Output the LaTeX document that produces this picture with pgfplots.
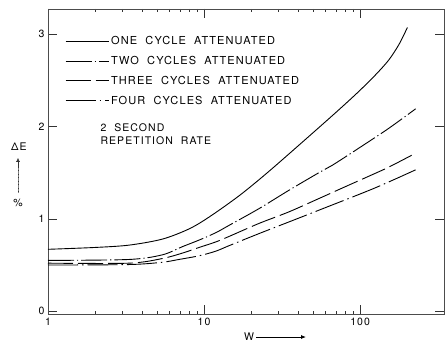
\documentclass[border=0pt]{standalone}
\usepackage{fontspec}
\setmainfont{TeX Gyre Heros}[LetterSpace=10,WordSpace=2]
\usepackage{pgfplots}
\pgfplotsset{compat=1.18}
\usetikzlibrary{arrows.meta}
\begin{document}
\begin{tikzpicture}
\def\fs{\fontsize{10.5}{12.6}\selectfont}
\def\fl{\fontsize{11}{13.2}\selectfont}
\begin{axis}[
  scale only axis, width=396pt, height=305pt,
  xmode=log, xmin=1, xmax=345, ymin=-0.03, ymax=3.27,
  xtick={1,10,100}, xticklabels={1,10,100},
  ytick={0,1,2,3}, yticklabels={0,1,2,3},
  minor tick num=0, minor xtick={},
  log ticks with fixed point,
  tick align=inside, major tick length=9pt,
  axis line style={line width=0.6pt, black!70},
  every tick/.style={black!80, line width=0.6pt},
  tick label style={font=\fs},
  xticklabel style={yshift=-1pt},
  /pgf/number format/assume math mode=true,
  legend style={at={(axis description cs:0.043,0.918)}, anchor=north west, draw=none, fill=none, font=\fl, row sep=6.2pt, inner sep=0pt},
  legend cell align=left,
  legend image code/.code={\draw[#1, line width=0.9pt] (0pt,0pt) -- (43pt,0pt);},
  clip=false,
]
\addplot[black, line width=0.9pt, smooth] coordinates {
(1,0.67) (2,0.69) (3.3,0.715) (5.4,0.78) (8,0.89) (10.8,1.02) (16.8,1.25) (25.5,1.50) (42.7,1.83) (69.9,2.15) (97,2.37) (126,2.56) (153,2.72) (178,2.89) (201,3.07)};
\addlegendentry{ONE CYCLE ATTENUATED}
\addplot[black, line width=0.9pt, smooth, dash pattern=on 26pt off 3pt on 1.2pt off 3pt] coordinates {
(1,0.55) (3.3,0.56) (5.4,0.61) (7.3,0.70) (9.3,0.77) (11.9,0.85) (14.5,0.93) (22.5,1.11) (35.1,1.31) (54.6,1.50) (66.5,1.58) (103.5,1.79) (153,1.98) (227,2.19)};
\addlegendentry{TWO CYCLES ATTENUATED}
\addplot[black, line width=0.9pt, smooth, dash pattern=on 25pt off 5pt] coordinates {
(1,0.52) (3.3,0.52) (5.4,0.57) (7.3,0.63) (9.3,0.69) (11.9,0.75) (14.5,0.81) (22.5,0.95) (35.1,1.076) (54.6,1.22) (81,1.35) (117,1.47) (153,1.56) (227,1.71)};
\addlegendentry{THREE CYCLES ATTENUATED}
\addplot[black, line width=0.9pt, smooth, dash pattern=on 30pt off 4pt on 1.5pt off 4pt] coordinates {
(1,0.50) (3.3,0.505) (5.4,0.53) (6.9,0.56) (9.3,0.60) (11.9,0.65) (14.5,0.71) (22.5,0.84) (35.1,0.967) (54.6,1.094) (123,1.33) (227,1.53)};
\addlegendentry{FOUR CYCLES ATTENUATED}
\end{axis}
\begin{scope}[shift={(current axis.south west)}, x=1pt, y=1pt, font=\fs]
% coordinates: (px-48, 314-py)
\node[anchor=west, align=left] at (97-48, 314-134) {2 SECOND\\REPETITION RATE};
\node at (19-48, 314-147) {ΔE};
\draw[black!80, -{Latex[length=4pt,width=4pt]}] (18-48, 314-192) -- (18-48, 314-158);
\draw[black!50, densely dotted] (18-48, 314-192) -- (18-48, 314-168);
\node at (18-48, 314-203) {\%};
\node at (249-48, 314-337) {W};
\draw[black, line width=0.8pt, -{Latex[length=5pt,width=4pt]}] (256-48, 314-337) -- (306-48, 314-337);
\end{scope}
\pgfresetboundingbox
\path[use as bounding box] ([shift={(-48pt,-31pt)}]current axis.south west) rectangle ([shift={(1pt,9pt)}]current axis.north east);
\end{tikzpicture}
\end{document}
